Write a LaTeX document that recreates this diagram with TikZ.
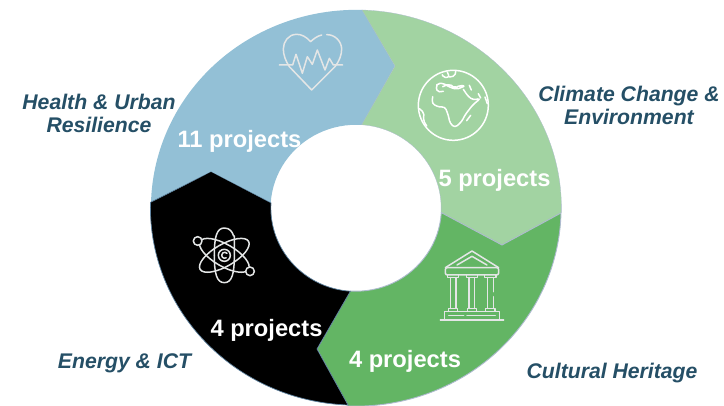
\documentclass[tikz,border=0pt]{standalone}
\usepackage{fontspec}
\setmainfont{Liberation Sans}
\definecolor{bluec}{HTML}{93C0D6}
\definecolor{lgreenc}{HTML}{A2D3A2}
\definecolor{greenc}{HTML}{63B564}
\definecolor{edgec}{HTML}{AEBBCF}
\definecolor{edgedark}{HTML}{5F83A0}
\definecolor{labelc}{HTML}{254F66}
\definecolor{iconc}{HTML}{E4E6E6}
\tikzset{
  seglabel/.style={inner sep=0pt,align=center,text=labelc,font=\fontsize{21.2}{23.5}\selectfont\bfseries\itshape},
  countlabel/.style={inner sep=0pt,text=white,font=\fontsize{23.7}{26}\selectfont\bfseries},
  iconline/.style={draw=iconc,line width=1.5pt,line cap=round,line join=round},
  outerarc/.style={x radius=205.5,y radius=198},
  innerarc/.style={x radius=85.5,y radius=83.5}
}
\begin{document}
\begin{tikzpicture}[x=1pt,y=-1pt]
\useasboundingbox (0,0) rectangle (724,406);
% ring segments
\fill[bluec] (151,203) arc[outerarc,start angle=181.4,end angle=271.7] -- (395,66) -- (362,125)
  arc[innerarc,start angle=274,end angle=183.4] -- (211,172) -- cycle;
\filldraw[fill=lgreenc,draw=edgec,line width=.3pt] (362,10) arc[outerarc,start angle=271.7,end angle=361.4] -- (502,245) -- (441,213)
  arc[innerarc,start angle=3.4,end angle=-86] -- (395,66) -- cycle;
\filldraw[fill=greenc,draw=edgec,line width=.9pt] (561,213) arc[outerarc,start angle=1.4,end angle=92.2] -- (317,349) -- (350,291)
  arc[innerarc,start angle=94,end angle=3.4] -- (502,245) -- cycle;
\filldraw[fill=black,draw=edgedark,line width=.7pt] (348,405) arc[outerarc,start angle=92.2,end angle=181.4] -- (211,172) -- (271,203)
  arc[innerarc,start angle=183.4,end angle=94] -- (317,349) -- cycle;
\fill (211,172) -- (151,203.5) -- (271,203.5) -- cycle;
% heart
\begin{scope}[shift={(270,25)},x=.3333pt,y=-.3333pt]
\draw[iconline] (122,50) .. controls (108,35) and (95,28) .. (80,28) .. controls (55,28) and (40,50) .. (40,72) .. controls (40,90) and (47,108) .. (58,125) -- (125,195) -- (195,125) .. controls (208,108) and (215,90) .. (215,72) .. controls (215,50) and (195,28) .. (170,29);
\draw[iconline] (122,50) .. controls (130,42) and (142,33) .. (155,30);
\draw[iconline] (28,120) -- (68,120) -- (78,88) -- (97,145) -- (112,95) -- (127,118) -- (142,75) -- (165,135) -- (178,100) -- (190,120) -- (218,120);
\end{scope}
% globe
\begin{scope}[shift={(410,62)},x=.3333pt,y=-.3333pt]
\tikzset{iconline/.append style={draw=white}}
\draw[iconline] (130,130) circle [radius=105];
\draw[iconline,rounded corners=3pt] (68,104) -- (66,125) -- (88,136) -- (105,134) -- (115,160) -- (120,184) -- (135,197) -- (155,179) -- (165,159) -- (188,129) -- (212,109) -- (190,114) -- (175,104) -- (160,82);
\draw[iconline,rounded corners=2pt] (100,88) -- (82,90) -- (78,72) -- (84,64) -- (100,64) -- (120,76) -- (140,82) -- (165,72) -- (150,70) -- (135,78) -- (118,66) -- (98,74);
\draw[iconline,rounded corners=2pt] (97,38) -- (100,47) -- (118,45) -- (112,30);
\draw[iconline,rounded corners=2pt] (118,45) -- (135,42) -- (137,28);
\draw[iconline] (178,70) -- (184,84);
\draw[iconline] (205,95) -- (212,108);
\draw[iconline] (225,105) -- (232,125);
\draw[iconline] (170,176) -- (182,160);
\draw[iconline,rounded corners=2pt] (28,140) -- (42,152) -- (40,175) -- (50,192);
\end{scope}
% atom
\begin{scope}[shift={(185,222)},x=.3333pt,y=-.3333pt]
\draw[iconline] (88,100) .. controls (88,45) and (95,18) .. (118,18) .. controls (135,18) and (142,30) .. (146,42);
\draw[iconline] (88,100) .. controls (88,155) and (95,182) .. (118,182) .. controls (141,182) and (148,155) .. (148,100) -- (148,42);
\draw[iconline,rotate around={60:(118,100)}] (118,100) ellipse [x radius=33,y radius=84];
\draw[iconline,rotate around={-60:(118,100)}] (118,100) ellipse [x radius=33,y radius=84];
\draw[iconline] (118,100) circle [radius=18];
\draw[iconline] (126,94) arc[start angle=-40,end angle=-300,radius=9];
\filldraw[iconline,fill=black] (38,57) circle [radius=13];
\filldraw[iconline,fill=black] (195,148) circle [radius=13];
\end{scope}
% temple
\begin{scope}[shift={(432,245)},x=.3333pt,y=-.3333pt]
\draw[iconline] (40,68) -- (120,18) -- (200,68);
\draw[iconline] (75,60) -- (120,34) -- (165,60);
\draw[iconline,rounded corners=2pt] (40,68) rectangle (200,90);
\draw[iconline] (47,90) -- (47,98) -- (80,98) -- (80,90);
\draw[iconline] (103,90) -- (103,98) -- (137,98) -- (137,90);
\draw[iconline] (158,90) -- (158,98) -- (192,98) -- (192,90);
\draw[iconline] (55,98) -- (55,190); \draw[iconline] (72,98) -- (72,190);
\draw[iconline] (111,98) -- (111,190); \draw[iconline] (128,98) -- (128,190);
\draw[iconline] (166,98) -- (166,190); \draw[iconline] (184,98) -- (184,140); \draw[iconline] (184,155) -- (184,190);
\draw[iconline] (50,198) -- (50,190) -- (77,190) -- (77,198);
\draw[iconline] (106,198) -- (106,190) -- (133,190) -- (133,198);
\draw[iconline] (161,198) -- (161,190) -- (189,190) -- (189,198);
\draw[iconline] (38,225) -- (38,200) -- (203,200) -- (203,225);
\draw[iconline] (25,225) -- (215,225);
\draw[iconline] (50,212) -- (95,212);
\draw[iconline] (105,212) -- (190,212);
\end{scope}
% labels
\node[seglabel] (health) at (99,113.5) {Health \& Urban\\Resilience};
\node[seglabel] (climate) at (629,105.5) {Climate Change \&\\Environment};
\node[seglabel] (heritage) at (612,373) {Cultural Heritage};
\node[seglabel] (energy) at (124.5,363.5) {Energy \& ICT};
\node[countlabel] (n11) at (239.5,141) {11 projects};
\node[countlabel] (n5) at (494.5,180) {5 projects};
\node[countlabel] (n4a) at (266.5,330) {4 projects};
\node[countlabel] (n4b) at (405,361) {4 projects};
\end{tikzpicture}
\end{document}
